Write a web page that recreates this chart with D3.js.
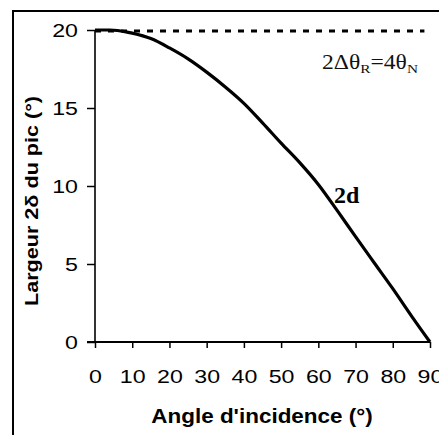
<!DOCTYPE html>
<html><head><meta charset="utf-8">
<script src="https://cdn.jsdelivr.net/npm/d3@7"></script>
<style>body{margin:0;background:#fff}svg{display:block}</style>
</head><body><svg id="c" width="439" height="435"></svg>
<script>
// Data
const angles = [0, 2, 4, 6, 8, 10, 15, 20, 25, 30, 35, 40, 45, 50, 55, 60, 65, 70, 75, 80, 85, 90];
const widths = [20, 20, 20, 19.97, 19.9, 19.8, 19.45, 18.85, 18.15, 17.3, 16.35, 15.3, 14.05, 12.75, 11.5, 10.1, 8.45, 6.75, 5.08, 3.42, 1.68, 0];
const xTicks = [0, 10, 20, 30, 40, 50, 60, 70, 80, 90];
const yTicks = [0, 5, 10, 15, 20];
const refLevel = [20];
const refRange = [0, 88.5];
const xTitle = "Angle d'incidence (°)";
const yTitle = "Largeur 2δ du pic (°)";
const curveLabel = "2d";

const svg = d3.select("#c");
const x = d3.scaleLinear().domain([0, 90]).range([95, 430]);
const y = d3.scaleLinear().domain([0, 20]).range([342, 30]);

// outer frame (left and top only, runs off the image)
svg.append("path").attr("d", "M13,435V11H439").attr("fill", "none").attr("stroke", "#000").attr("stroke-width", 2);

// y axis
const gy = svg.append("g").attr("transform", `translate(${x(0)},0)`)
  .call(d3.axisLeft(y).tickValues(yTicks).tickSize(8).tickPadding(0).tickFormat(d3.format("d")));
gy.select(".domain").attr("stroke-width", 1.6).attr("d", `M0,${y(0)}V${y(20)}`);
gy.selectAll(".tick line").attr("stroke-width", 1.5);
gy.selectAll(".tick text").attr("font-family", "Liberation Sans, Arial, sans-serif").attr("font-size", 19)
  .attr("fill", "#000").attr("x", -17 / 1.22).attr("dy", "0.35em").attr("transform", "scale(1.22,1)");

// x axis
const gx = svg.append("g").attr("transform", `translate(0,${y(0)})`)
  .call(d3.axisBottom(x).tickValues(xTicks).tickSize(6).tickFormat(d3.format("d")));
gx.select(".domain").attr("stroke-width", 2).attr("d", `M${x(0) - 8},0H${x(90)}`);
gx.selectAll(".tick line").attr("stroke-width", 1.5);
gx.selectAll(".tick text").attr("font-family", "Liberation Sans, Arial, sans-serif").attr("font-size", 19)
  .attr("fill", "#000").attr("y", 41).attr("dy", 0).attr("transform", "scale(1.22,1)");

// reference dashed line at 20
svg.append("line")
  .attr("x1", x(refRange[0])).attr("x2", x(refRange[1]))
  .attr("y1", y(refLevel[0]) + 1).attr("y2", y(refLevel[0]) + 1)
  .attr("stroke", "#000").attr("stroke-width", 3).attr("stroke-dasharray", "6,7");

// curve
const pts = angles.map((a, i) => [a, widths[i]]);
svg.append("path").datum(pts)
  .attr("fill", "none").attr("stroke", "#000").attr("stroke-width", 3.2)
  .attr("stroke-linejoin", "round")
  .attr("d", d3.line().x(d => x(d[0])).y(d => y(d[1])).curve(d3.curveMonotoneX));

// axis titles
svg.append("text").attr("transform", "translate(262,423) scale(1.07,1)")
  .attr("text-anchor", "middle").attr("font-family", "Liberation Sans, Arial, sans-serif")
  .attr("font-weight", "bold").attr("font-size", 21).text(xTitle);
svg.append("text").attr("transform", "translate(38,201) rotate(-90) scale(1.2,1)")
  .attr("text-anchor", "middle").attr("font-family", "Liberation Sans, Arial, sans-serif")
  .attr("font-weight", "bold").attr("font-size", 18).text(yTitle);

// annotation 2ΔθR=4θN
const ann = svg.append("text").attr("transform", "translate(322,69) scale(1.18,1)")
  .attr("font-family", "Liberation Serif, Times New Roman, serif").attr("font-size", 20).attr("fill", "#111");
ann.append("tspan").text("2Δθ");
ann.append("tspan").attr("font-size", 13).attr("dy", 4).text("R");
ann.append("tspan").attr("dy", -4).text("=4θ");
ann.append("tspan").attr("font-size", 13).attr("dy", 4).text("N");

// curve label
svg.append("text").attr("x", 334).attr("y", 203)
  .attr("font-family", "Liberation Serif, Times New Roman, serif").attr("font-weight", "bold")
  .attr("font-size", 24).text(curveLabel);
</script>
</body></html>
